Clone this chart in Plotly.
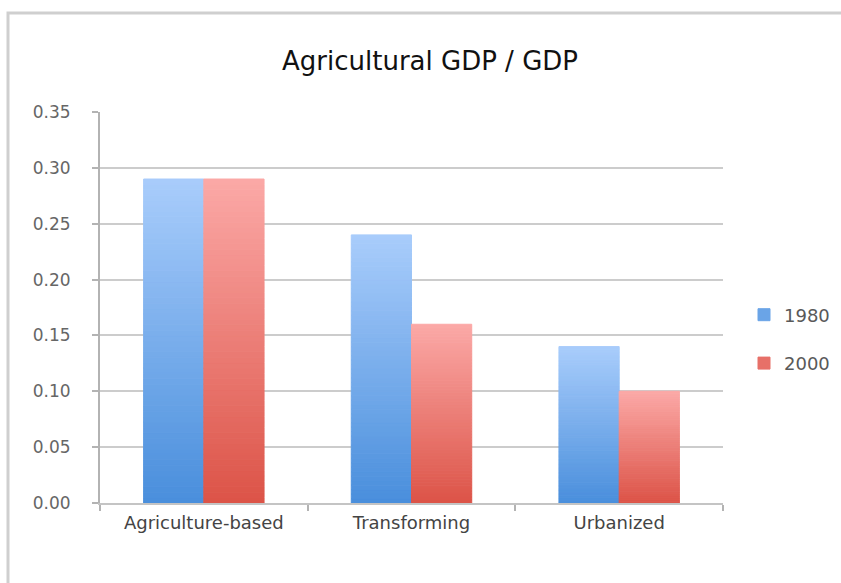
import plotly.graph_objects as go

categories = ["Agriculture-based", "Transforming", "Urbanized"]
series_names = ["1980", "2000"]
values_1980 = [0.29, 0.24, 0.14]
values_2000 = [0.29, 0.16, 0.10]
y_ticks = [0.00, 0.05, 0.10, 0.15, 0.20, 0.25, 0.30, 0.35]

# gradient colours (top -> bottom) per series
grad = {
    "1980": ((168, 204, 251), (74, 143, 220)),
    "2000": ((251, 168, 166), (220, 84, 72)),
}
N = 60

def mix(c0, c1, t):
    return "rgb(%d,%d,%d)" % tuple(round(a + (b - a) * t) for a, b in zip(c0, c1))

fig = go.Figure()
for name, vals in zip(series_names, [values_1980, values_2000]):
    top, bot = grad[name]
    for i in range(N):
        t = i / (N - 1)  # 0 bottom, 1 top
        c = mix(bot, top, t)
        fig.add_trace(go.Bar(
            x=categories,
            y=[v / N for v in vals],
            base=[v * i / N for v in vals],
            offsetgroup=name,
            name=name,
            legendgroup=name,
            showlegend=(i == N // 3),
            marker=dict(color=c, line=dict(width=1, color=c)),
            hoverinfo="skip",
        ))

font_main = "DejaVu Sans, Verdana, sans-serif"

fig.update_layout(
    width=841, height=583,
    margin=dict(l=100, r=118, t=112, b=80, autoexpand=False),
    paper_bgcolor="white", plot_bgcolor="white",
    barmode="group", bargap=0.42, bargroupgap=0,
    title=dict(text="Agricultural GDP / GDP", x=430 / 841, xref="container", xanchor="center",
               y=1 - 61 / 583, yref="container", yanchor="middle",
               font=dict(family=font_main, size=26, color="#111111")),
    legend=dict(x=(744 - 100) / 623, xanchor="left", y=(503 - 339) / 391, yanchor="middle",
                traceorder="grouped",
                font=dict(family=font_main, size=18, color="#595959"),
                itemwidth=30, tracegroupgap=22),
    font=dict(family=font_main, size=18, color="#595959"),
    shapes=[dict(type="rect", xref="paper", yref="paper",
                 x0=(8 - 100) / 623, x1=1.3, y0=-0.3, y1=(503 - 13) / 391,
                 line=dict(color="#cfcfcf", width=3), layer="below")],
)
fig.update_yaxes(range=[0, 0.35], tickvals=y_ticks, tickformat=".2f",
                 showgrid=True, gridcolor="#cccccc", gridwidth=2,
                 showline=True, linecolor="#b3b3b3", linewidth=2,
                 ticks="outside", ticklen=6, tickcolor="#b3b3b3", tickwidth=2,
                 ticklabelstandoff=18, zeroline=False,
                 tickfont=dict(family=font_main, size=17, color="#666666"))
fig.update_xaxes(showline=True, linecolor="#c4c4c4", linewidth=2,
                 ticks="outside", ticklen=6, tickcolor="#b3b3b3", tickwidth=2,
                 tickson="boundaries", ticklabelstandoff=2,
                 tickfont=dict(family=font_main, size=18, color="#444444"))

fig.write_html("out.html")
